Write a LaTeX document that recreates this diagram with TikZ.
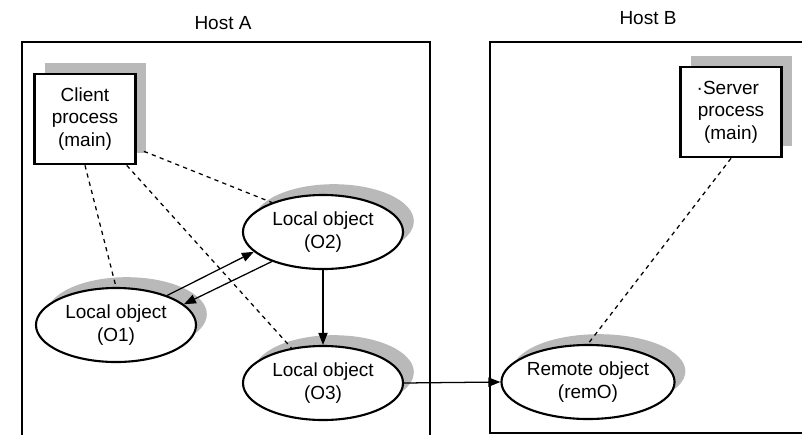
\documentclass[tikz,border=0pt]{standalone}
\usepackage{fontspec}
\setmainfont{Liberation Sans}
\usetikzlibrary{shapes.geometric,shadows,arrows.meta}

\tikzset{
  grayshadow/.style={general shadow={fill=gray!55,shadow xshift=0.27cm,shadow yshift=0.27cm}},
  proc/.style={draw,line width=1.9pt,fill=white,minimum width=2.53cm,minimum height=2.25cm,align=center,grayshadow},
  obj/.style={ellipse,draw,line width=1.5pt,fill=white,minimum width=4cm,minimum height=1.85cm,inner sep=0pt,align=center,grayshadow},
  link/.style={line width=0.9pt,dash pattern=on 3pt off 3pt},
  call/.style={->,>={Triangle[length=8.5pt,width=6.5pt]},line width=0.9pt},
  host/.style={line width=1.5pt}
}

\begin{document}
\begin{tikzpicture}[x=0.025cm,y=-0.025cm,font=\fontsize{13.5}{16}\selectfont]
  \useasboundingbox (0,0) rectangle (802,435);
  \node (hostA) at (223,23) {Host A};
  \node (hostB) at (648,18) {Host B};
  \draw[host] (22,435)--(22,42)--(430,42)--(430,435); %Host A
  \draw[host] (802,42)--(490,42)--(490,433)--(802,433); %Host B
  \node[proc] (client) at (85,119) {Client\\process\\(main)};
  \node[proc] (server) at (731,112) {\llap{·}Server\\process\\(main)};
  \node[obj] (O2) at (323,232) {Local object\\(O2)};
  \node[obj] (O1) at (116,325) {Local object\\(O1)};
  \node[obj] (O3) at (323,383) {Local object\\(O3)};
  \node[obj] (remO) at (588,382) {Remote object\\(remO)};
  \draw[link] (client.south)--(O1.north);
  \draw[link] (client)--(O3);
  \draw[link] ([shift={(7,-14)}]client.south east)--(O2.150);
  \draw[link] (server.south)--(remO.north);
  \draw[call] (O1.30)--(O2.196); %O1 -> O2
  \draw[call] (O2.210)--(O1.17); %O2 -> O1
  \draw[call] (O2.south)--(O3.north);
  \draw[call] (O3.east)--(remO.west); %remote call
\end{tikzpicture}
\end{document}
